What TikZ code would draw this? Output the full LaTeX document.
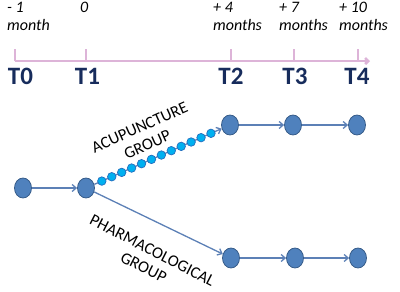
\documentclass[tikz,border=0pt]{standalone}
\usepackage{fontspec}
\setmainfont{Carlito}
\usepackage{xcolor}
\usetikzlibrary{shapes.geometric,arrows.meta,positioning,calc}

\definecolor{stagefill}{RGB}{79,129,189}
\definecolor{stageedge}{RGB}{56,93,138}
\definecolor{linkblue}{RGB}{92,128,182}
\definecolor{beadfill}{RGB}{0,176,240}
\definecolor{beadedge}{RGB}{36,110,190}
\definecolor{axispink}{RGB}{221,180,216}
\definecolor{tnavy}{RGB}{23,44,92}

\begin{document}
\begin{tikzpicture}[
    x=1bp, y=-1bp,
    stage/.style={ellipse, minimum width=17bp, minimum height=20bp, inner sep=0pt, draw=stageedge, line width=0.8bp, fill=stagefill},
    bead/.style={circle, minimum size=8.5bp, inner sep=0pt, draw=beadedge, line width=0.7bp, fill=beadfill},
    link/.style={draw=linkblue, line width=1.3bp, -{Straight Barb[length=4bp, width=7bp]}},
    axis/.style={draw=axispink, line width=2.6bp},
    timelabel/.style={anchor=north west, inner sep=0pt, align=left, font=\fontsize{16bp}{18bp}\selectfont\itshape},
    tlabel/.style={inner sep=0pt, text=tnavy, font=\fontsize{25bp}{27bp}\selectfont\bfseries},
    grouplabel/.style={inner sep=0pt, align=center, font=\fontsize{16.5bp}{19bp}\selectfont}
]
    \useasboundingbox (0,0) rectangle (400,292);

    % timeline
    \coordinate (ax0) at (15,61);
    \coordinate (ax1) at (86,61);
    \coordinate (ax2) at (231,61);
    \coordinate (ax3) at (294,61);
    \coordinate (ax4) at (358,61);
    \coordinate (axend) at (370,61);
    \draw[axis, -{Straight Barb[length=3bp, width=6bp]}] (ax0) -- (axend);
    \foreach \k in {0,...,4}
        \draw[axis] (ax\k) -- ++(0,-12);

    \node[timelabel] (lbl0) at (7,2) {- 1\\month};
    \node[timelabel] (lbl1) at (80,2) {0};
    \node[timelabel] (lbl2) at (213,2) {+ 4\\months};
    \node[timelabel] (lbl3) at (279,2) {+ 7\\months};
    \node[timelabel] (lbl4) at (339,2) {+ 10\\months};

    \node[tlabel] (T0) at (20.5,76) {T0};
    \node[tlabel] (T1) at (87.5,76) {T1};
    \node[tlabel] (T2) at (231,76) {T2};
    \node[tlabel] (T3) at (295,76) {T3};
    \node[tlabel] (T4) at (357,76) {T4};

    % stages
    \node[stage] (t0) at (23,188) {};
    \node[stage] (t1) at (86,188) {};
    \node[stage] (acu2) at (230,125) {};
    \node[stage] (acu3) at (293,125) {};
    \node[stage] (acu4) at (357,125) {};
    \node[stage] (ph2) at (231,258) {};
    \node[stage] (ph3) at (295,258) {};
    \node[stage] (ph4) at (358,258) {};

    \draw[link] (t0) -- (t1);
    \draw[link] (t1) -- (acu2);
    \draw[link] (acu2) -- (acu3);
    \draw[link] (acu3) -- (acu4);
    \draw[link] (t1) -- (ph2);
    \draw[link] (ph2) -- (ph3);
    \draw[link] (ph3) -- (ph4);

    % beads on the acupuncture branch
    \foreach \k in {0,...,11} {
        \pgfmathsetmacro\f{0.11+0.0689*\k}
        \node[bead] (bead\k) at ($(t1)!\f!(acu2)$) {};
    }

    \node[grouplabel, rotate=24] (acu) at (143.5,136) {ACUPUNCTURE\\GROUP};
    \node[grouplabel, rotate=-27] (pharma) at (148,259) {PHARMACOLOGICAL\\GROUP};

\end{tikzpicture}
\end{document}
